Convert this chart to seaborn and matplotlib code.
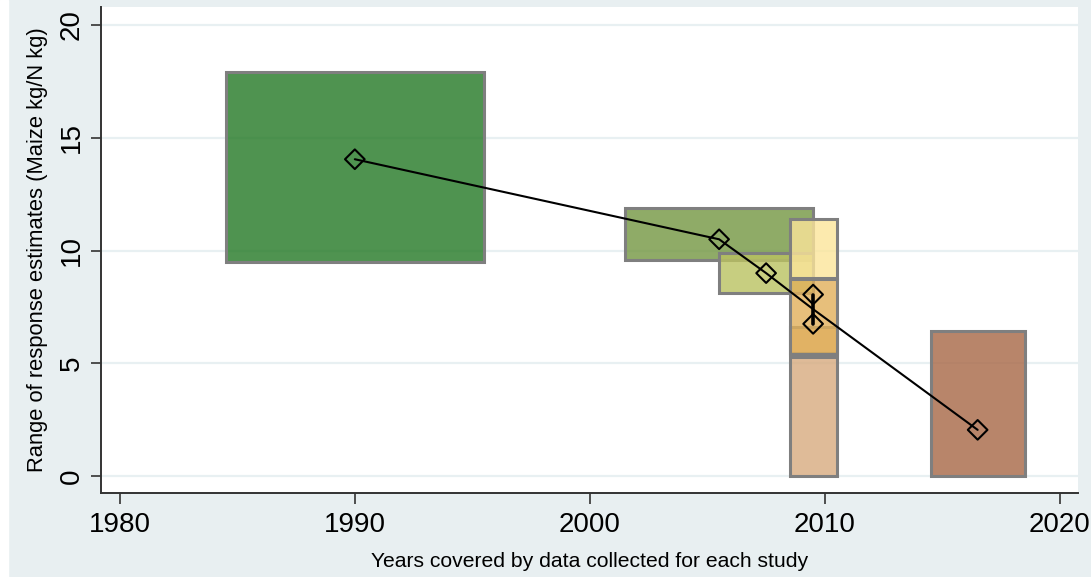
import matplotlib
matplotlib.use("Agg")
import matplotlib.pyplot as plt
from matplotlib.patches import Rectangle
import seaborn as sns
import pandas as pd

# ranges covered by each study (boxes)
box_start = [1984.5, 2001.5, 2005.5, 2008.5, 2008.5, 2008.5, 2008.5, 2014.5]
box_end = [1995.5, 2009.5, 2009.5, 2010.5, 2010.5, 2010.5, 2010.5, 2018.5]
box_low = [9.5, 9.6, 8.1, 8.8, 5.45, 5.4, 0.0, 0.0]
box_high = [17.9, 11.9, 9.9, 11.4, 6.6, 8.75, 5.3, 6.45]
box_colors = ["#237824", "#739641", "#bac260", "#fce59a", "#dcac74",
              "#e1b05a", "#d7aa7e", "#a76745"]

# point estimates for each study
pt_year = [1990, 2005.5, 2007.5, 2009.5, 2009.5, 2016.5]
pt_est = [14.05, 10.5, 9.0, 8.05, 6.75, 2.05]

x_ticks = [1980, 1990, 2000, 2010, 2020]
y_ticks = [0, 5, 10, 15, 20]

sns.set_style("white")
plt.rcParams["font.family"] = ["Liberation Sans", "DejaVu Sans"]
plt.rcParams["text.color"] = "black"
plt.rcParams["axes.labelcolor"] = "black"
plt.rcParams["xtick.color"] = "black"
plt.rcParams["ytick.color"] = "black"

bg = "#e8eff1"
fig = plt.figure(figsize=(10.91, 5.77), dpi=100, facecolor=bg)
fig.add_artist(Rectangle((0, 0), 8 / 1091, 1, transform=fig.transFigure,
                         color="white", zorder=0))
ax = fig.add_axes([101 / 1091, 1 - 493 / 577, 977 / 1091, 486 / 577])
ax.set_facecolor("white")

ax.yaxis.grid(True, color="#e8f0f2", lw=1.6)
ax.set_axisbelow(True)

widths = [e - s for s, e in zip(box_start, box_end)]
heights = [h - l for l, h in zip(box_low, box_high)]
for s, w, l, h, c in zip(box_start, widths, box_low, heights, box_colors):
    ax.bar(s, h, width=w, bottom=l, align="edge", color=c, alpha=0.8,
           edgecolor="none", zorder=2)
    ax.bar(s, h, width=w, bottom=l, align="edge", fill=False,
           edgecolor="#7f7f7f", lw=2.2, zorder=2)

df = pd.DataFrame({"year": pt_year, "est": pt_est})
sns.lineplot(data=df, x="year", y="est", errorbar=None, color="black",
             lw=1.5, ax=ax, zorder=3)
same = df[df["year"] == df["year"].value_counts().idxmax()]
ax.plot(same["year"], same["est"], color="black", lw=2.6, zorder=3)
sns.scatterplot(data=df, x="year", y="est", marker="D", s=100,
                facecolors="none", edgecolor="black", linewidth=1.5,
                ax=ax, zorder=4)

ax.set_xlim(1979.2, 2020.77)
ax.set_ylim(-0.75, 20.8)
ax.set_xticks(x_ticks)
ax.set_yticks(y_ticks)
ax.tick_params(axis="x", labelsize=20, length=8, width=1.2, pad=6,
               color="#333333", bottom=True)
ax.tick_params(axis="y", labelsize=20, length=7.5, width=1.2, pad=4,
               color="#333333", left=True)
for lab in ax.get_yticklabels():
    lab.set_rotation(90)
    lab.set_va("center")

for side in ["top", "right"]:
    ax.spines[side].set_visible(False)
for side in ["left", "bottom"]:
    ax.spines[side].set_color("#333333")
    ax.spines[side].set_linewidth(1.4)

ax.set_xlabel("Years covered by data collected for each study",
              fontsize=15.2, labelpad=10)
ax.set_ylabel("Range of response estimates (Maize kg/N kg)",
              fontsize=15.8, labelpad=8)

fig.savefig("out.png", dpi=100, facecolor=bg)
